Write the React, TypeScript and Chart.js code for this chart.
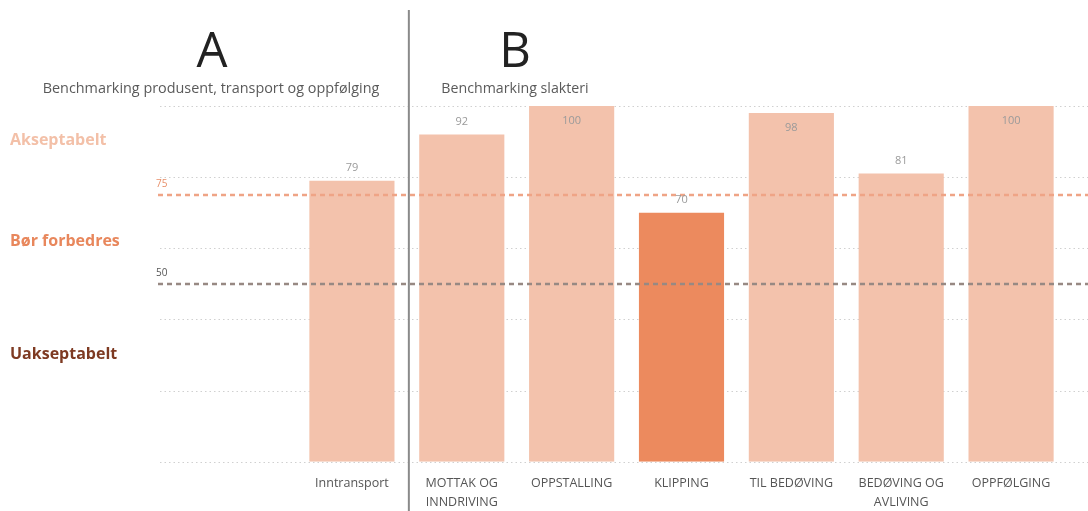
import React, { useEffect, useRef } from "react";
import { Chart, registerables } from "chart.js";

Chart.register(...registerables);

const categories: (string | string[])[] = [
  "Inntransport",
  ["MOTTAK OG", "INNDRIVING"],
  "OPPSTALLING",
  "KLIPPING",
  "TIL BEDØVING",
  ["BEDØVING OG", "AVLIVING"],
  "OPPFØLGING",
];
const scores = [79, 92, 100, 70, 98, 81, 100];
const gridValues = [0, 20, 40, 60, 80, 100];
const thresholdValues = [75, 50];
const thresholdLabels = ["75", "50"];
const zoneLabels = ["Akseptabelt", "Bør forbedres", "Uakseptabelt"];
const panelLetters = ["A", "B"];
const panelTitles = ["Benchmarking produsent, transport og oppfølging", "Benchmarking slakteri"];

const FONT = "'Open Sans', 'Noto Sans', sans-serif";
const LIGHT = "#F3C2AC";
const STRONG = "#EC8A5E";
const CANVAS_H = 560;

export default function App() {
  const ref = useRef<HTMLCanvasElement | null>(null);

  useEffect(() => {
    document.body.style.margin = "0";
    const canvas = ref.current!;
    const overlay = {
      id: "overlay",
      beforeDatasetsDraw(chart: any) {
        const ctx = chart.ctx;
        const y = chart.scales.y;
        ctx.save();
        ctx.strokeStyle = "#D0D0D0";
        ctx.lineWidth = 1;
        ctx.setLineDash([1.5, 3]);
        gridValues.forEach((v) => {
          const py = Math.round(y.getPixelForValue(v)) + 0.5;
          ctx.beginPath();
          ctx.moveTo(160, py);
          ctx.lineTo(1088, py);
          ctx.stroke();
        });
        ctx.restore();
      },
      afterDatasetsDraw(chart: any) {
        const ctx = chart.ctx;
        const y = chart.scales.y;
        const x = chart.scales.x;
        ctx.save();
        const tColors = ["#EFA486", "#978983"];
        thresholdValues.forEach((v, i) => {
          const py = y.getPixelForValue(v);
          ctx.strokeStyle = tColors[i];
          ctx.lineWidth = 2.5;
          ctx.setLineDash([5, 4]);
          ctx.beginPath();
          ctx.moveTo(158, py);
          ctx.lineTo(1088, py);
          ctx.stroke();
          ctx.setLineDash([]);
          ctx.fillStyle = i === 0 ? "#E8906A" : "#555";
          ctx.font = `10px ${FONT}`;
          ctx.textAlign = "left";
          ctx.textBaseline = "middle";
          ctx.fillText(thresholdLabels[i], 156, py - 11);
        });
        const meta = chart.getDatasetMeta(0);
        ctx.font = `11px ${FONT}`;
        ctx.fillStyle = "#9A9A9A";
        ctx.textAlign = "center";
        ctx.textBaseline = "middle";
        meta.data.forEach((bar: any, i: number) => {
          const v = scores[i];
          const py = v >= 95 ? bar.y + 15 : bar.y - 13;
          ctx.fillText(String(v), bar.x, py);
        });
        const dx = (x.getPixelForValue(0) + x.getPixelForValue(1)) / 2 + 2;
        ctx.strokeStyle = "#8A8A8A";
        ctx.lineWidth = 2;
        ctx.beginPath();
        ctx.moveTo(dx, 10);
        ctx.lineTo(dx, CANVAS_H);
        ctx.stroke();
        ctx.fillStyle = "#222";
        ctx.font = `49px ${FONT}`;
        ctx.textBaseline = "alphabetic";
        ctx.fillText(panelLetters[0], 212, 67);
        ctx.fillText(panelLetters[1], 515, 67);
        ctx.fillStyle = "#5A5A5A";
        ctx.textBaseline = "middle";
        ctx.font = `14.4px ${FONT}`;
        ctx.fillText(panelTitles[0], 211, 89);
        ctx.font = `14.2px ${FONT}`;
        ctx.fillText(panelTitles[1], 515, 89);
        const zColors = ["#F3C0A8", "#E8875C", "#7E3A22"];
        const zY = [140, 241, 354];
        ctx.textAlign = "left";
        ctx.font = `bold 16px ${FONT}`;
        zoneLabels.forEach((t, i) => {
          ctx.fillStyle = zColors[i];
          ctx.fillText(t, 10, zY[i]);
        });
        ctx.restore();
      },
    };

    const chart = new Chart(canvas, {
      type: "bar",
      data: {
        labels: categories,
        datasets: [
          {
            data: scores,
            backgroundColor: scores.map((v) => (v < thresholdValues[0] ? STRONG : LIGHT)),
            categoryPercentage: 1,
            barPercentage: 0.775,
          },
        ],
      },
      options: {
        animation: false,
        responsive: false,
        maintainAspectRatio: false,
        layout: { padding: { left: 297, right: 22, top: 106, bottom: 36 } },
        plugins: { legend: { display: false }, tooltip: { enabled: false } },
        scales: {
          x: {
            grid: { display: false, drawTicks: false },
            border: { display: false },
            ticks: {
              color: "#555",
              font: { family: FONT, size: 12.5, lineHeight: 1.45 },
              padding: 13,
              maxRotation: 0,
              autoSkip: false,
            },
          },
          y: { display: false, min: 0, max: 100 },
        },
      },
      plugins: [overlay],
    });
    return () => chart.destroy();
  }, []);

  return (
    <div style={{ width: 1088, height: 511, overflow: "hidden", background: "#fff" }}>
      <canvas ref={ref} width={1088} height={CANVAS_H} style={{ display: "block" }} />
    </div>
  );
}
